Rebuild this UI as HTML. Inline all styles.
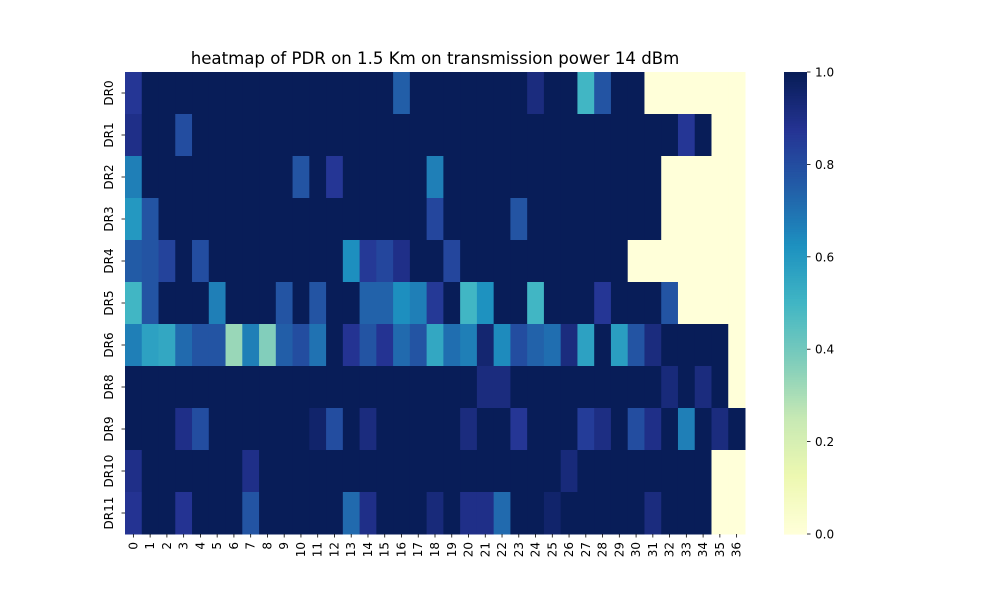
<!DOCTYPE html>
<html><head><meta charset="utf-8"><style>
body{margin:0;background:#fff;font-family:"Liberation Sans","DejaVu Sans",sans-serif}
svg text{font-family:"DejaVu Sans","Liberation Sans",sans-serif;fill:#000}
</style></head><body>
<svg id="chart" width="1000" height="600" xmlns="http://www.w3.org/2000/svg">
<rect width="1000" height="600" fill="#fff"/>
<text x="435" y="64" font-size="16.6" text-anchor="middle">heatmap of PDR on 1.5 Km on transmission power 14 dBm</text>
<g id="cells"></g><g id="xaxis"></g><g id="yaxis"></g><g id="cbar"></g>
</svg>
<script>
const rowLabels=["DR0","DR1","DR2","DR3","DR4","DR5","DR6","DR8","DR9","DR10","DR11"];
const colLabels=[...Array(37).keys()].map(String);
const row0=[0.87,1,1,1,1,1,1,1,1,1,1,1,1,1,1,1,0.75,1,1,1,1,1,1,1,0.92,1,1,0.5,0.78,1,1,0,0,0,0,0,0];
const row1=[0.9,1,1,0.8,1,1,1,1,1,1,1,1,1,1,1,1,1,1,1,1,1,1,1,1,1,1,1,1,1,1,1,1,1,0.87,1,0,0];
const row2=[0.67,1,1,1,1,1,1,1,1,1,0.78,1,0.87,1,1,1,1,1,0.67,1,1,1,1,1,1,1,1,1,1,1,1,1,0,0,0,0,0];
const row3=[0.6,0.78,1,1,1,1,1,1,1,1,1,1,1,1,1,1,1,1,0.82,1,1,1,1,0.78,1,1,1,1,1,1,1,1,0,0,0,0,0];
const row4=[0.76,0.78,0.83,1,0.8,1,1,1,1,1,1,1,1,0.63,0.86,0.82,0.9,1,1,0.82,1,1,1,1,1,1,1,1,1,1,0,0,0,0,0,0,0];
const row5=[0.5,0.78,1,1,1,0.67,1,1,1,0.78,1,0.78,1,1,0.74,0.74,0.63,0.67,0.86,1,0.5,0.62,1,1,0.5,1,1,1,0.87,1,1,1,0.78,0,0,0,0];
const row6=[0.67,0.57,0.55,0.72,0.78,0.78,0.33,0.67,0.37,0.75,0.8,0.7,1,0.88,0.78,0.88,0.72,0.78,0.55,0.71,0.67,0.95,0.64,0.8,0.74,0.71,0.92,0.57,1,0.58,0.78,0.92,1,1,1,1,0];
const row7=[1,1,1,1,1,1,1,1,1,1,1,1,1,1,1,1,1,1,1,1,1,0.92,0.92,1,1,1,1,1,1,1,1,1,0.93,1,0.92,1,0];
const row8=[1,1,1,0.9,0.8,1,1,1,1,1,1,0.96,0.8,1,0.92,1,1,1,1,1,0.92,1,1,0.87,1,1,1,0.85,0.91,1,0.8,0.9,1,0.67,1,0.92,1];
const row9=[0.9,1,1,1,1,1,1,0.9,1,1,1,1,1,1,1,1,1,1,1,1,1,1,1,1,1,1,0.93,1,1,1,1,1,1,1,1,0,0];
const row10=[0.88,1,1,0.88,1,1,1,0.78,1,1,1,1,1,0.72,0.9,1,1,1,0.93,1,0.9,0.9,0.72,1,1,0.96,1,1,1,1,1,0.92,1,1,1,0,0];
const values=[row0,row1,row2,row3,row4,row5,row6,row7,row8,row9,row10];
const cbTicks=[0,0.2,0.4,0.6,0.8,1.0];

const stops=["#ffffd9","#edf8b1","#c7e9b4","#7fcdbb","#41b6c4","#1d91c0","#225ea8","#253494","#081d58"];
function hex(h){return [1,3,5].map(i=>parseInt(h.substr(i,2),16));}
function color(v){v=Math.max(0,Math.min(1,v));const p=v*8,i=Math.min(7,Math.floor(p)),t=p-i;const a=hex(stops[i]),b=hex(stops[i+1]);return "rgb("+a.map((c,k)=>Math.round(c+(b[k]-c)*t)).join(",")+")";}
const X0=125,X1=745,Y0=72,Y1=534;
const cw=(X1-X0)/colLabels.length, rh=(Y1-Y0)/rowLabels.length;
const xPos=c=>X0+c*cw, yPos=r=>Y0+r*rh;
const NS="http://www.w3.org/2000/svg";
function el(t,a,p){const e=document.createElementNS(NS,t);for(const k in a)e.setAttribute(k,a[k]);p.appendChild(e);return e;}
const cells=document.getElementById('cells');
values.forEach((row,r)=>row.forEach((v,c)=>{
 const e=el('rect',{x:xPos(c),y:yPos(r),width:cw+0.5,height:rh+0.5,fill:color(v)},cells);
 
 
}));
const xa=document.getElementById('xaxis');
colLabels.forEach((l,c)=>{
 const x=xPos(c)+cw/2;
 el('line',{x1:x,y1:Y1,x2:x,y2:Y1+3.5,stroke:'#000','stroke-width':0.8},xa);
 const t=el('text',{x:x+4,y:Y1+8,'font-size':12,'text-anchor':'end',transform:`rotate(-90 ${x+4} ${Y1+8})`},xa);
 t.textContent=l;
 
 
});
const ya=document.getElementById('yaxis');
rowLabels.forEach((l,r)=>{
 const y=yPos(r)+rh/2;
 el('line',{x1:X0-3.5,y1:y,x2:X0,y2:y,stroke:'#000','stroke-width':0.8},ya);
 const t=el('text',{x:X0-12,y:y,'font-size':12,'text-anchor':'middle',transform:`rotate(-90 ${X0-12} ${y})`},ya);
 t.textContent=l;
 
 
});
const cb=document.getElementById('cbar');
const CX=784,CW=23;
for(let i=0;i<200;i++){const v=i/199;el('rect',{x:CX,y:Y1-(i+1)*(Y1-Y0)/200,width:CW,height:(Y1-Y0)/200+0.6,fill:color(v)},cb);}
cbTicks.forEach(v=>{
 const y=Y1-v*(Y1-Y0);
 el('line',{x1:CX+CW,y1:y,x2:CX+CW+3.5,y2:y,stroke:'#000','stroke-width':0.8},cb);
 const t=el('text',{x:CX+CW+8,y:y+4.5,'font-size':12},cb);
 t.textContent=v.toFixed(1);
 
 
});


</script>
</body></html>
